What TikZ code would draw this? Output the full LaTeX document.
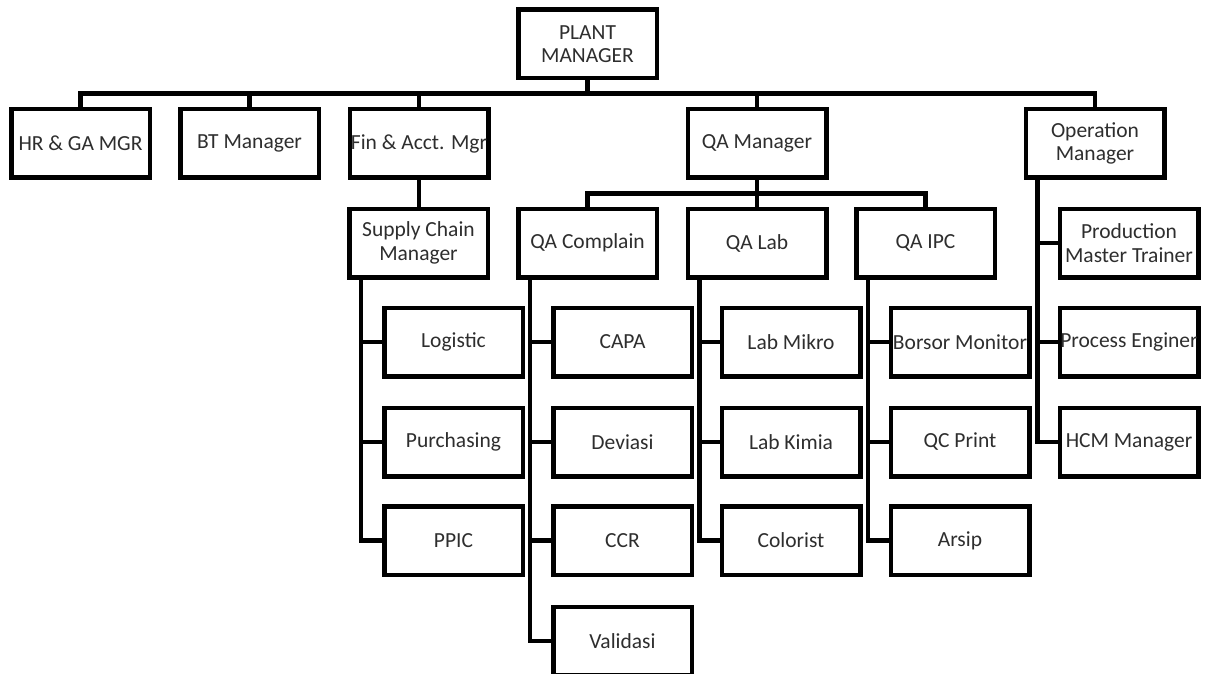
\documentclass[tikz,border=0pt]{standalone}
\usepackage{fontspec}
\setmainfont{Carlito}
\begin{document}
\begin{tikzpicture}[x=1pt,y=-1pt,
  unit/.style={draw=black, line width=4.5pt, fill=white, inner sep=0pt,
    minimum width=138.5pt, minimum height=68.5pt, align=center,
    text=black!82, font=\fontsize{21.5}{23.5}\selectfont},
  conn/.style={draw=black, line width=4.5pt, line join=miter}]
\useasboundingbox (0,0) rectangle (1208,674);
\clip (0,0) rectangle (1208,674);

% levels of the chart
\coordinate (busA) at (0,93.5);
\coordinate (busB) at (0,193.5);

% top level
\node[unit] (pm) at (587.5,44) {PLANT\\MANAGER};

% managers
\node[unit] (hr)  at (80.5,143.5)  {HR \& GA MGR};
\node[unit] (bt)  at (249.5,143.5) {BT Manager};
\node[unit] (fin) at (419,143.5)   {Fin \& Acct. Mgr};
\node[unit] (qam) at (757,143.5)   {QA Manager};
\node[unit] (ops) at (1095,143.5)  {Operation\\Manager};

% second level
\node[unit] (scm) at (418.5,243) {Supply Chain\\Manager};
\node[unit] (qac) at (587.5,243) {QA Complain};
\node[unit] (qal) at (757,243)   {QA Lab};
\node[unit] (ipc) at (925.5,243) {QA IPC};
\node[unit] (pmt) at (1129,243)  {Production\\Master Trainer};

% supply chain staff
\node[unit] (log)  at (453.5,342)   {Logistic};
\node[unit] (pur)  at (453.5,442)   {Purchasing};
\node[unit] (ppic) at (453.5,540.5) {PPIC};

% QA complain staff
\node[unit] (capa) at (622.5,342)   {CAPA};
\node[unit] (dev)  at (622.5,442)   {Deviasi};
\node[unit] (ccr)  at (622.5,540.5) {CCR};
\node[unit] (val)  at (622.5,641)   {Validasi};

% QA lab staff
\node[unit] (mik) at (791,342)   {Lab Mikro};
\node[unit] (kim) at (791,442)   {Lab Kimia};
\node[unit] (col) at (791,540.5) {Colorist};

% QA IPC staff
\node[unit] (bor) at (960,342)   {Borsor Monitor};
\node[unit] (qcp) at (960,442)   {QC Print};
\node[unit] (ars) at (960,540.5) {Arsip};

% operation staff
\node[unit] (pe)  at (1129,342) {Process Enginer};
\node[unit] (hcm) at (1129,442) {HCM Manager};

% plant manager to managers
\foreach \c in {hr,bt,fin,qam,ops}
  \draw[conn] (pm.south) -- (pm.south |- busA) -| (\c.north);

% finance to supply chain
\draw[conn] (fin.south) -- (fin.south |- scm.north);

% QA manager to QA sections
\foreach \c in {qac,qal,ipc}
  \draw[conn] (qam.south) -- (qam.south |- busB) -| (\c.north);

% side spines to staff
\foreach \c in {log,pur,ppic}
  \draw[conn] ([xshift=14pt]scm.south west) |- (\c.west);
\foreach \c in {capa,dev,ccr,val}
  \draw[conn] ([xshift=14pt]qac.south west) |- (\c.west);
\foreach \c in {mik,kim,col}
  \draw[conn] ([xshift=14pt]qal.south west) |- (\c.west);
\foreach \c in {bor,qcp,ars}
  \draw[conn] ([xshift=14pt]ipc.south west) |- (\c.west);
\foreach \c in {pmt,pe,hcm}
  \draw[conn] ([xshift=14pt]ops.south west) |- (\c.west);
\end{tikzpicture}
\end{document}
